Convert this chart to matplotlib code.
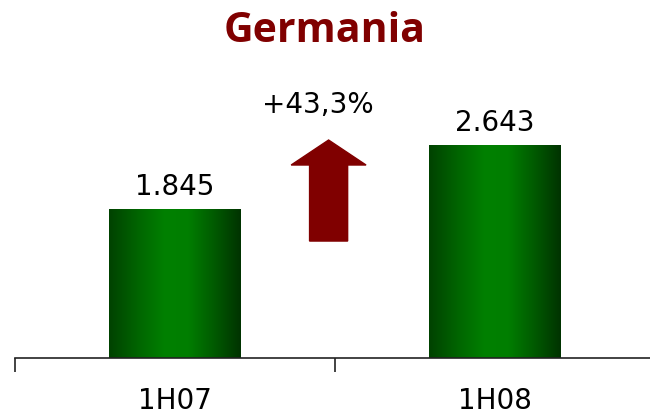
import numpy as np
import matplotlib
matplotlib.use("Agg")
import matplotlib.pyplot as plt
from matplotlib.colors import LinearSegmentedColormap
from matplotlib.patches import FancyArrow

# Data
categories = ['1H07', '1H08']
values = [1845, 2643]
value_labels = ['1.845', '2.643']
growth_label = '+43,3%'
title = 'Germania'

dark_red = '#800000'
green_cmap = LinearSegmentedColormap.from_list(
    'bar_green', [(0.0, '#004200'), (0.2, '#006200'), (0.42, '#008000'),
                  (0.6, '#007e00'), (0.8, '#005a00'), (1.0, '#003300')])

fig = plt.figure(figsize=(6.5, 4.17), dpi=100)
# axes spans from the left tick (x=15px) to beyond the right edge
ax = fig.add_axes([15 / 650, (417 - 358) / 417, 640 / 650, 358 / 417])
ax.set_xlim(-0.5, 1.5)
ax.set_ylim(0, 4454)

bar_width = 0.41
x = np.arange(len(categories))
bars = ax.bar(x, values, width=bar_width, color='none', edgecolor='none')

# horizontal gradient fill for each bar
grad = np.linspace(0, 1, 256).reshape(1, -1)
for b in bars:
    x0, y0 = b.get_x(), b.get_y()
    w, h = b.get_width(), b.get_height()
    ax.imshow(grad, cmap=green_cmap, aspect='auto', extent=(x0, x0 + w, y0, y0 + h),
              zorder=2, interpolation='bicubic')

for xi, v, lab in zip(x, values, value_labels):
    ax.text(xi, v + 110, lab, ha='center', va='bottom', fontsize=20, color='black')

# growth arrow between the two bars
mid = 0.48
arrow = FancyArrow(mid, 1455, 0, 2712 - 1455, width=0.119, head_width=0.234,
                   head_length=2712 - 2401, length_includes_head=True,
                   color=dark_red, zorder=3)
ax.add_patch(arrow)
ax.text(0.445, 3150, growth_label, ha='center', va='center', fontsize=20, color='black')

# axis formatting
for side in ['left', 'right', 'top']:
    ax.spines[side].set_visible(False)
ax.spines['bottom'].set_color('#222222')
ax.spines['bottom'].set_linewidth(1.2)
ax.set_yticks([])
ax.set_xticks(x)
ax.set_xticklabels(categories, fontsize=20)
ax.tick_params(axis='x', which='major', length=0, pad=21, colors='black')
ax.set_xticks([-0.5, 0.5, 1.5], minor=True)
ax.tick_params(axis='x', which='minor', length=10, width=1.2, color='#222222', direction='out')

fig.text(0.5, 1 - 31 / 417, title, ha='center', va='center', fontsize=29.5,
         fontweight='bold', color=dark_red, family='Open Sans')

fig.savefig('out.png', dpi=100)
